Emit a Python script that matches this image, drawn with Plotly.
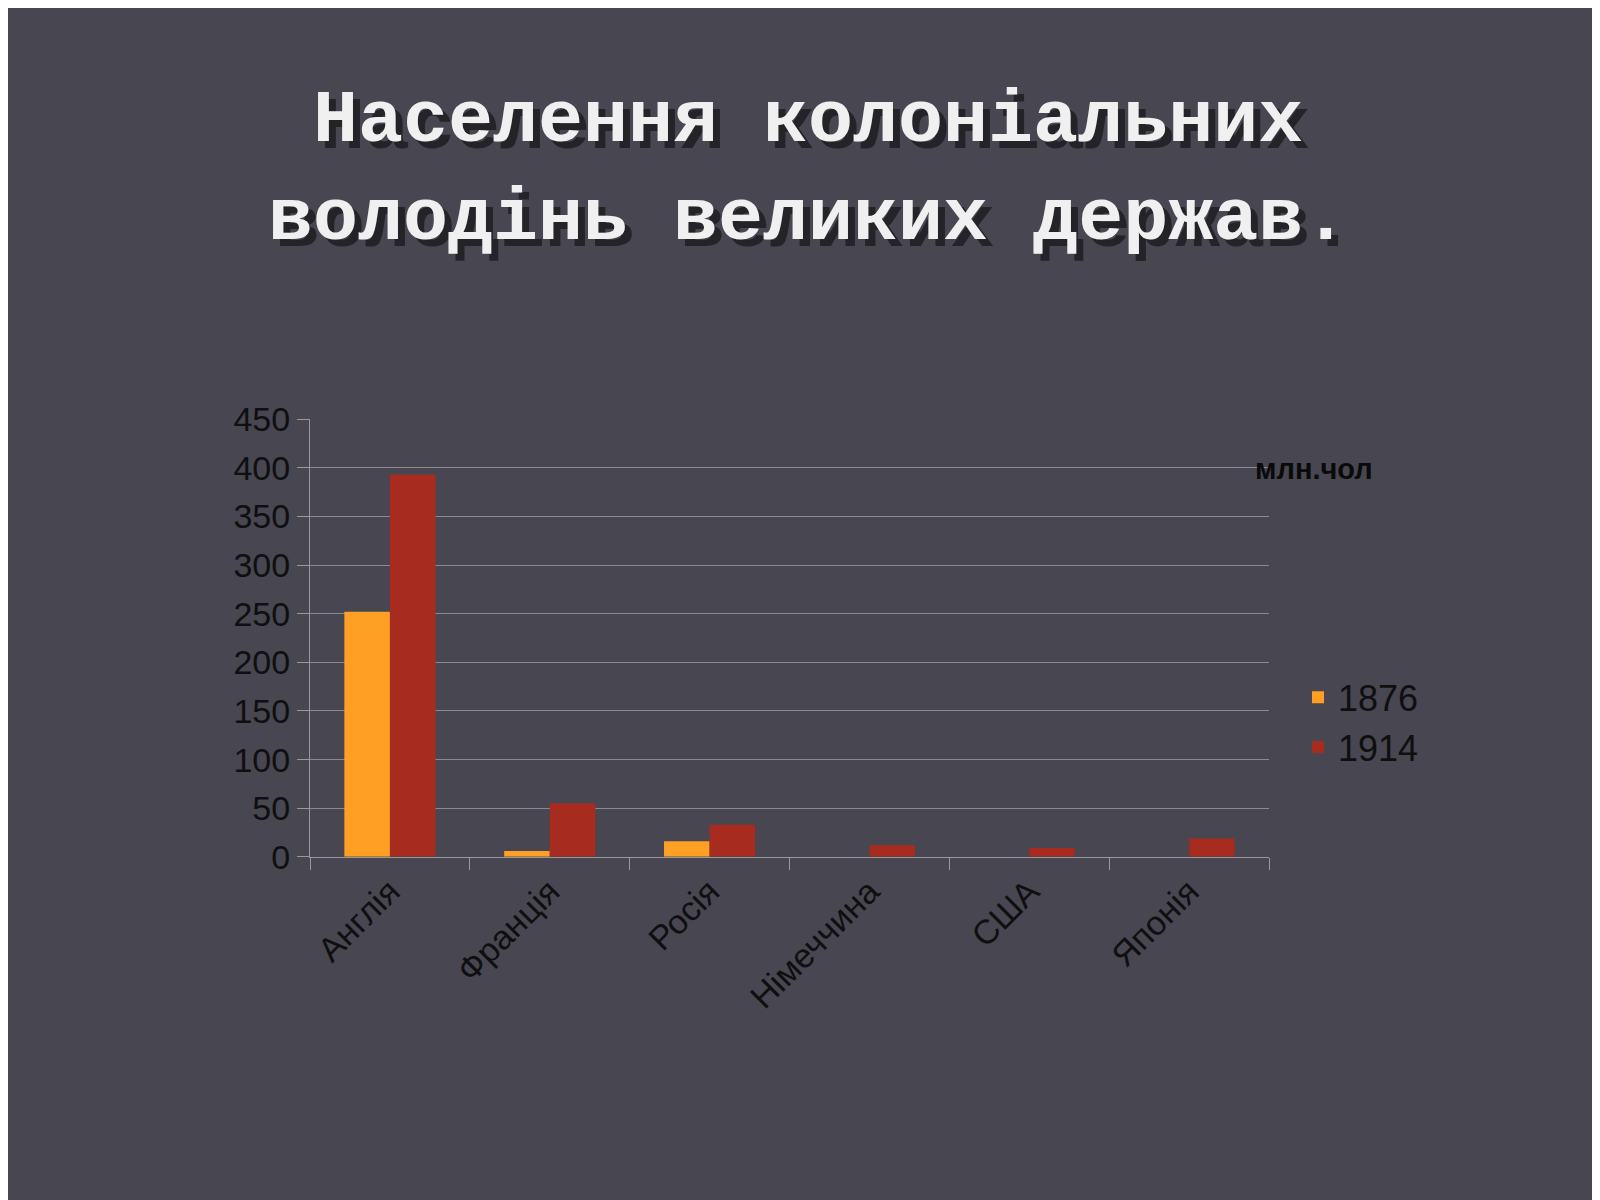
import plotly.graph_objects as go

categories = ["Англія", "Франція", "Росія", "Німеччина", "США", "Японія"]
y1876 = [252, 6, 16, 0, 0, 0]
y1914 = [393, 55, 33, 12, 9, 19]
tick_vals = [0, 50, 100, 150, 200, 250, 300, 350, 400, 450]

bg = "#474651"
fig = go.Figure()
fig.add_bar(x=categories, y=y1876, name="1876", marker_color="#ffa024", marker_line_width=0)
fig.add_bar(x=categories, y=y1914, name="1914", marker_color="#a82b20", marker_line_width=0)

title = "<b>Населення колоніальних<br>володінь великих держав.</b>"
for dx, dy, col in [(7, 7, "rgba(0,0,0,0.5)"), (0, 0, "#f0f0f0")]:
    fig.add_annotation(text=title, xref="paper", yref="paper", x=0.5, y=1-52/1200,
                       xanchor="center", yanchor="top", showarrow=False, xshift=dx, yshift=-dy,
                       font=dict(family="Liberation Mono", size=75, color=col), align="center")

fig.add_annotation(text="<b>млн.чол</b>", xref="paper", yref="paper", x=1245/1600, y=1-456/1200,
                   xanchor="left", yanchor="middle", showarrow=False,
                   font=dict(family="Liberation Sans", size=29, color="#0a0a0a"))

fig.update_layout(
    width=1600, height=1200, paper_bgcolor=bg, plot_bgcolor=bg,
    margin=dict(l=0, r=0, t=0, b=0),
    barmode="group", bargap=0.43, bargroupgap=0,
    font=dict(family="Liberation Sans", color="#0f0f0f"),
    legend=dict(x=1290/1600, y=1-718/1200, xanchor="left", yanchor="middle",
                font=dict(size=36, color="#0f0f0f"), bgcolor="rgba(0,0,0,0)",
                itemwidth=30, tracegroupgap=10),
    xaxis=dict(domain=[302/1600, 1261/1600], tickangle=-45, tickfont=dict(size=34),
               showline=True, linecolor="#999", ticks="outside", tickcolor="#999", ticklen=12,
               tickson="boundaries"),
    yaxis=dict(domain=[1-857/1200, 1-405/1200], range=[0, 450], tickvals=tick_vals,
               tickfont=dict(size=34), gridcolor="#8a8a92", showline=True, linecolor="#999",
               ticks="outside", tickcolor="#999", ticklen=12, zeroline=False),
)
fig.write_html("out.html")
